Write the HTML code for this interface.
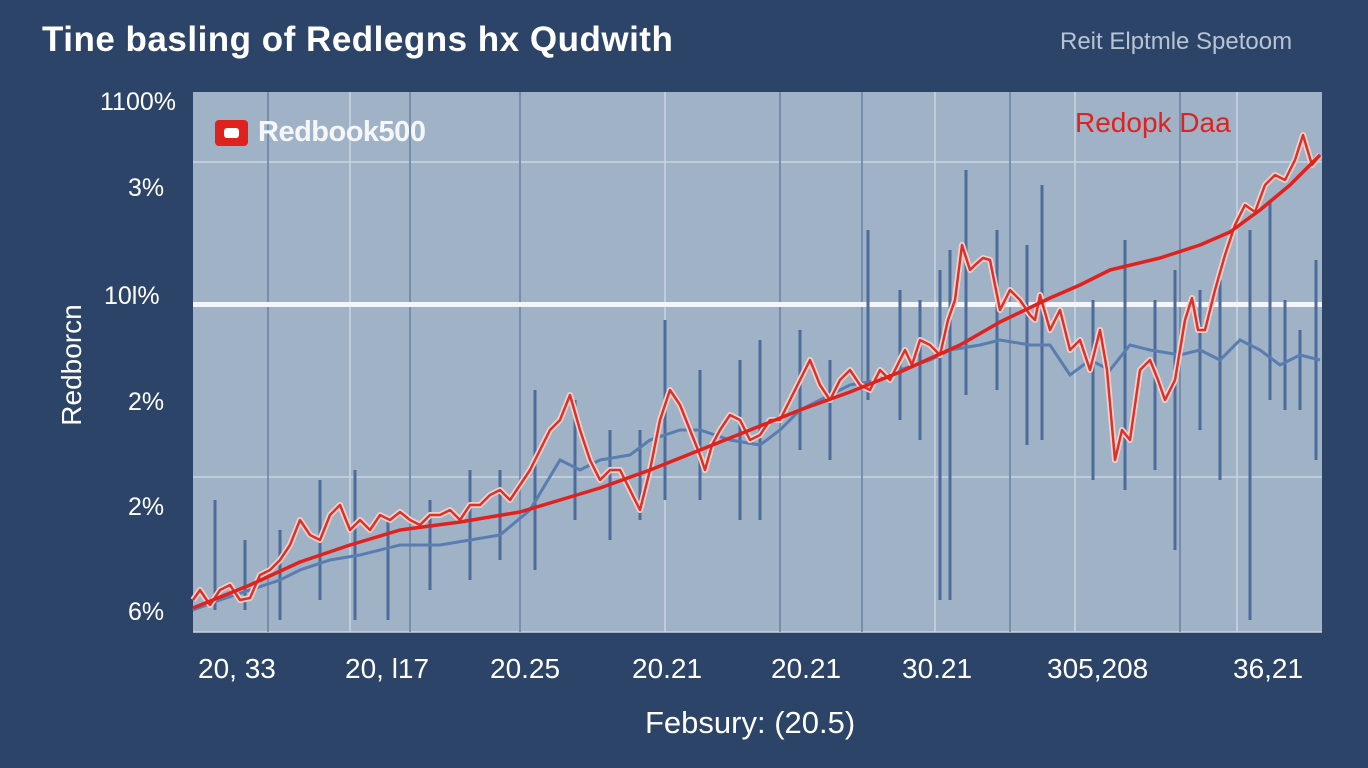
<!DOCTYPE html>
<html><head><meta charset="utf-8"><style>
html,body{margin:0;padding:0;}
body{width:1368px;height:768px;background:#2c4468;overflow:hidden;position:relative;font-family:"Liberation Sans",sans-serif;}
.t{position:absolute;white-space:nowrap;}
</style></head><body>
<svg width="1368" height="768" style="position:absolute;left:0;top:0">
<rect x="0" y="0" width="1368" height="768" fill="#2c4468"/>
<rect x="193" y="92" width="1129" height="540" fill="#a0b2c6"/>
<g stroke="#c8d4e2" stroke-width="1.5">
<line x1="193" y1="162" x2="1322" y2="162"/>
<line x1="193" y1="477" x2="1322" y2="477"/>
<line x1="193" y1="632" x2="1322" y2="632"/>
<line x1="350" y1="92" x2="350" y2="632"/>
<line x1="665" y1="92" x2="665" y2="632"/>
<line x1="935" y1="92" x2="935" y2="632"/>
<line x1="1075" y1="92" x2="1075" y2="632"/>
<line x1="1237" y1="92" x2="1237" y2="632"/>
</g>
<g stroke="#6c84a6" stroke-width="2" opacity="0.8">
<line x1="268" y1="92" x2="268" y2="632"/><line x1="410" y1="92" x2="410" y2="632"/>
<line x1="520" y1="92" x2="520" y2="632"/><line x1="780" y1="92" x2="780" y2="632"/>
<line x1="862" y1="92" x2="862" y2="632"/><line x1="1010" y1="92" x2="1010" y2="632"/>
<line x1="1180" y1="92" x2="1180" y2="632"/>
</g>
<rect x="193" y="302" width="1129" height="5" fill="#f2f5f9"/>
<g stroke="#4d6c9c" stroke-width="3">
<line x1="215" y1="500" x2="215" y2="610"/><line x1="245" y1="540" x2="245" y2="610"/>
<line x1="280" y1="530" x2="280" y2="620"/><line x1="320" y1="480" x2="320" y2="600"/>
<line x1="355" y1="470" x2="355" y2="620"/><line x1="388" y1="520" x2="388" y2="620"/>
<line x1="430" y1="500" x2="430" y2="590"/><line x1="470" y1="470" x2="470" y2="580"/>
<line x1="500" y1="470" x2="500" y2="560"/><line x1="535" y1="390" x2="535" y2="570"/>
<line x1="575" y1="400" x2="575" y2="520"/><line x1="610" y1="430" x2="610" y2="540"/>
<line x1="640" y1="430" x2="640" y2="520"/><line x1="665" y1="320" x2="665" y2="500"/>
<line x1="700" y1="370" x2="700" y2="500"/><line x1="740" y1="360" x2="740" y2="520"/>
<line x1="760" y1="340" x2="760" y2="520"/><line x1="800" y1="330" x2="800" y2="450"/>
<line x1="830" y1="360" x2="830" y2="460"/><line x1="868" y1="230" x2="868" y2="400"/>
<line x1="900" y1="290" x2="900" y2="420"/><line x1="920" y1="300" x2="920" y2="440"/>
<line x1="940" y1="270" x2="940" y2="600"/><line x1="950" y1="250" x2="950" y2="600"/>
<line x1="966" y1="170" x2="966" y2="395"/><line x1="997" y1="230" x2="997" y2="390"/>
<line x1="1027" y1="245" x2="1027" y2="445"/><line x1="1042" y1="185" x2="1042" y2="440"/>
<line x1="1093" y1="300" x2="1093" y2="480"/><line x1="1125" y1="240" x2="1125" y2="490"/>
<line x1="1155" y1="300" x2="1155" y2="470"/><line x1="1175" y1="270" x2="1175" y2="550"/>
<line x1="1200" y1="290" x2="1200" y2="430"/><line x1="1220" y1="280" x2="1220" y2="480"/>
<line x1="1250" y1="230" x2="1250" y2="620"/><line x1="1270" y1="200" x2="1270" y2="400"/>
<line x1="1285" y1="300" x2="1285" y2="410"/><line x1="1300" y1="330" x2="1300" y2="410"/>
<line x1="1316" y1="260" x2="1316" y2="460"/>
</g>
<polyline fill="none" stroke="#5a7db0" stroke-width="3" points="193,610 220,600 250,590 280,580 300,570 330,560 360,555 400,545 440,545 470,540 500,535 530,510 560,460 580,470 600,460 630,455 650,440 680,430 700,430 730,440 760,445 780,430 800,410 830,395 850,385 880,380 900,370 930,360 950,350 980,345 1000,340 1030,345 1050,345 1070,375 1090,360 1110,370 1130,345 1150,350 1180,355 1200,350 1220,360 1240,340 1260,350 1280,365 1300,355 1320,360"/>
<polyline fill="none" stroke="#f6d0c8" stroke-width="6" stroke-linejoin="round" points="193,600 200,590 210,605 220,590 230,585 240,600 250,598 260,575 270,570 280,560 290,545 300,520 310,535 320,540 330,515 340,505 350,530 360,520 370,530 380,515 390,520 400,512 410,520 420,525 430,515 440,515 450,510 460,520 470,505 480,505 490,495 500,490 510,500 520,485 530,470 540,450 550,430 560,420 570,395 580,430 590,460 600,480 610,470 620,470 630,490 640,510 650,470 660,420 670,390 680,405 690,430 700,455 705,470 712,445 720,430 730,415 740,420 750,440 760,435 770,420 780,420 790,400 800,380 810,360 820,385 830,400 840,380 850,370 860,385 870,390 880,370 890,380 900,360 905,350 912,365 920,340 930,345 940,355 948,320 955,300 962,245 970,270 975,265 983,258 990,260 995,285 1000,310 1010,290 1020,300 1030,315 1035,320 1040,295 1050,330 1055,320 1060,310 1070,350 1080,340 1090,370 1100,330 1107,370 1115,460 1122,430 1130,440 1140,370 1150,360 1158,380 1165,400 1175,380 1185,320 1192,298 1198,330 1205,330 1215,290 1225,255 1235,225 1245,205 1255,212 1265,185 1275,175 1285,180 1295,160 1303,135 1312,165 1320,155"/>
<polyline fill="none" stroke="#d8322e" stroke-width="2.5" stroke-linejoin="round" points="193,600 200,590 210,605 220,590 230,585 240,600 250,598 260,575 270,570 280,560 290,545 300,520 310,535 320,540 330,515 340,505 350,530 360,520 370,530 380,515 390,520 400,512 410,520 420,525 430,515 440,515 450,510 460,520 470,505 480,505 490,495 500,490 510,500 520,485 530,470 540,450 550,430 560,420 570,395 580,430 590,460 600,480 610,470 620,470 630,490 640,510 650,470 660,420 670,390 680,405 690,430 700,455 705,470 712,445 720,430 730,415 740,420 750,440 760,435 770,420 780,420 790,400 800,380 810,360 820,385 830,400 840,380 850,370 860,385 870,390 880,370 890,380 900,360 905,350 912,365 920,340 930,345 940,355 948,320 955,300 962,245 970,270 975,265 983,258 990,260 995,285 1000,310 1010,290 1020,300 1030,315 1035,320 1040,295 1050,330 1055,320 1060,310 1070,350 1080,340 1090,370 1100,330 1107,370 1115,460 1122,430 1130,440 1140,370 1150,360 1158,380 1165,400 1175,380 1185,320 1192,298 1198,330 1205,330 1215,290 1225,255 1235,225 1245,205 1255,212 1265,185 1275,175 1285,180 1295,160 1303,135 1312,165 1320,155"/>
<polyline fill="none" stroke="#e0221e" stroke-width="3.5" stroke-linejoin="round" points="193,608 250,585 300,562 350,545 400,530 460,522 520,512 560,500 600,488 650,470 700,450 750,430 800,410 850,392 900,372 960,345 1000,322 1050,298 1080,285 1110,270 1160,258 1200,245 1230,232 1260,210 1290,185 1320,155"/>
<rect x="215" y="120" width="33" height="26" rx="4" fill="#e0221e"/>
<rect x="224" y="128" width="15" height="10" rx="3" fill="#fff"/>
</svg>
<div class="t" style="left:42px;top:20px;font-size:35px;font-weight:bold;color:#fff;letter-spacing:0.5px;">Tine basling of Redlegns hx Qudwith</div>
<div class="t" style="left:1060px;top:28px;font-size:24px;color:#b8c4d4;">Reit Elptmle Spetoom</div>
<div class="t" style="left:258px;top:116px;font-size:29px;font-weight:bold;color:#f4f6f9;letter-spacing:-0.5px;">Redbook500</div>
<div class="t" style="left:1075px;top:107px;font-size:28px;color:#e0221e;">Redopk Daa</div>
<div class="t" style="left:100px;top:88px;font-size:25px;color:#fff;">1100%</div>
<div class="t" style="left:128px;top:174px;font-size:25px;color:#fff;">3%</div>
<div class="t" style="left:104px;top:282px;font-size:25px;color:#fff;">10l%</div>
<div class="t" style="left:128px;top:388px;font-size:25px;color:#fff;">2%</div>
<div class="t" style="left:128px;top:493px;font-size:25px;color:#fff;">2%</div>
<div class="t" style="left:128px;top:598px;font-size:25px;color:#fff;">6%</div>
<div class="t" style="left:72px;top:365px;font-size:28px;color:#fff;transform:translate(-50%,-50%) rotate(-90deg);">Redborcn</div>
<div class="t" style="left:198px;top:653px;font-size:28px;color:#fff;">20, 33</div>
<div class="t" style="left:345px;top:653px;font-size:28px;color:#fff;">20, l17</div>
<div class="t" style="left:490px;top:653px;font-size:28px;color:#fff;">20.25</div>
<div class="t" style="left:632px;top:653px;font-size:28px;color:#fff;">20.21</div>
<div class="t" style="left:771px;top:653px;font-size:28px;color:#fff;">20.21</div>
<div class="t" style="left:902px;top:653px;font-size:28px;color:#fff;">30.21</div>
<div class="t" style="left:1047px;top:653px;font-size:28px;color:#fff;">305,208</div>
<div class="t" style="left:1233px;top:653px;font-size:28px;color:#fff;">36,21</div>
<div class="t" style="left:645px;top:705px;font-size:31px;color:#fff;">Febsury: (20.5)</div>
</body></html>
